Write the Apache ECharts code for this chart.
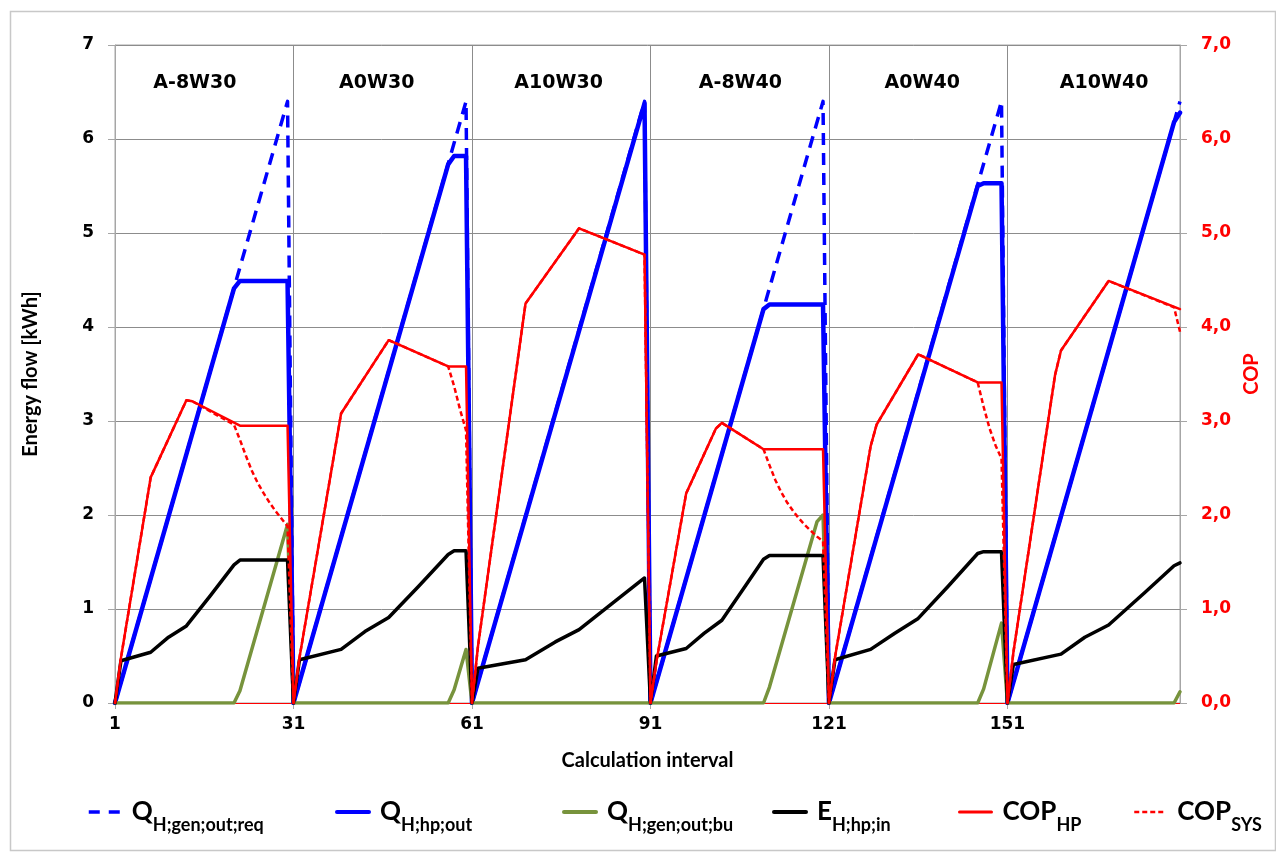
<!DOCTYPE html>
<html><head><meta charset="utf-8">
<script src="https://cdn.jsdelivr.net/npm/echarts@6/dist/echarts.min.js"></script>
<style>html,body{margin:0;padding:0;background:#fff}#c{width:1276px;height:852px}</style>
</head><body><div id="c"></div>
<script>
// ---------- data ----------
const intervals = Array.from({length: 180}, (_, i) => String(i + 1));
const xTickLabels = ['1', '31', '61', '91', '121', '151'];
const segmentNames = ['A-8W30', 'A0W30', 'A10W30', 'A-8W40', 'A0W40', 'A10W40'];
const yTicksLeft = [0, 1, 2, 3, 4, 5, 6, 7];

// [calculation interval, value] — breakpoints
const qReq = [[1,0],[30,6.4],[31,0],[60,6.4],[61,0],[90,6.4],[91,0],[120,6.4],[121,0],[150,6.4],[151,0],[180,6.4]];
const qHp = [[1,0],[21,4.41],[22,4.49],[30,4.49],[31,0],[57,5.73],[58,5.82],[60,5.82],[61,0],[90,6.38],[91,0],
  [110,4.19],[111,4.24],[120,4.24],[121,0],[146,5.5],[147,5.53],[150,5.53],[151,0],[179,6.18],[180,6.28]];
const qBu = [[1,0],[21,0],[22,0.13],[30,1.9],[31,0],[57,0],[58,0.14],[60,0.57],[61,0],[110,0],[111,0.17],[119,1.93],[120,2.0],[121,0],
  [146,0],[147,0.15],[150,0.85],[151,0],[179,0],[180,0.12]];
const eIn = [[1,0],[2,0.45],[7,0.54],[10,0.7],[13,0.82],[17,1.14],[21,1.47],[22,1.52],[30,1.52],[31,0],
  [32,0.46],[39,0.57],[43,0.76],[47,0.91],[52,1.24],[57,1.58],[58,1.62],[60,1.62],[61,0],
  [62,0.37],[70,0.46],[75,0.65],[79,0.78],[85,1.08],[90,1.33],[91,0],
  [92,0.5],[97,0.58],[100,0.74],[103,0.88],[107,1.25],[110,1.53],[111,1.57],[120,1.57],[121,0],
  [122,0.46],[128,0.57],[132,0.74],[136,0.9],[141,1.24],[146,1.59],[147,1.61],[150,1.61],[151,0],
  [152,0.41],[160,0.52],[164,0.7],[168,0.83],[174,1.17],[179,1.46],[180,1.49]];
const copHp = [[1,0],[2,0.48],[7,2.4],[13,3.22],[14,3.21],[22,2.95],[30,2.95],[31,0],
  [32,0.48],[39,3.08],[47,3.86],[57,3.58],[60,3.58],[61,0],
  [62,0.6],[70,4.25],[79,5.05],[90,4.77],[91,0],
  [92,0.44],[97,2.23],[102,2.92],[103,2.98],[110,2.7],[120,2.7],[121,0],
  [122,0.48],[128,2.73],[129,2.96],[136,3.71],[146,3.41],[150,3.41],[151,0],
  [152,0.54],[159,3.49],[160,3.75],[168,4.49],[180,4.19]];
const copSys = [[1,0],[2,0.48],[7,2.4],[13,3.22],[14,3.21],[21,2.96],[22,2.8],[23,2.63],[24,2.47],[25,2.34],[26,2.23],[27,2.13],[28,2.04],[29,1.96],[30,1.88],[31,0],
  [32,0.48],[39,3.08],[47,3.86],[57,3.58],[58,3.37],[59,3.12],[60,2.9],[61,0],
  [62,0.6],[70,4.25],[79,5.05],[90,4.77],[91,0],
  [92,0.44],[97,2.23],[102,2.92],[103,2.98],[110,2.7],[111,2.53],[112,2.37],[113,2.24],[114,2.13],[115,2.04],[116,1.96],[117,1.89],[118,1.83],[119,1.77],[120,1.72],[121,0],
  [122,0.48],[128,2.73],[129,2.96],[136,3.71],[146,3.41],[147,3.15],[148,2.92],[149,2.74],[150,2.6],[151,0],
  [152,0.54],[159,3.49],[160,3.75],[168,4.49],[179,4.21],[180,3.95]];

// legend texts: [series name, main text, subscript]
const legendItems = [
  ['Q_H;gen;out;req', 'Q', 'H;gen;out;req'],
  ['Q_H;hp;out', 'Q', 'H;hp;out'],
  ['Q_H;gen;out;bu', 'Q', 'H;gen;out;bu'],
  ['E_H;hp;in', 'E', 'H;hp;in'],
  ['COP_HP', 'COP', 'HP'],
  ['COP_SYS', 'COP', 'SYS']
];

// ---------- styling ----------
const FT = 'DejaVu Sans';
const FL = 'Lato';
const GRID_C = '#8c8c8c';
const AX_C = '#a6a6a6';
const BLUE = '#0000ff', RED = '#ff0000', GREEN = '#77933c', BLACK = '#000000';

const toData = arr => arr.map(p => [String(p[0]), p[1]]);
const atTick = (idx, val) => xTickLabels.indexOf(String(val)) >= 0;

function mkLine(name, arr, color, width, type, yIdx) {
  return {
    name, type: 'line', data: toData(arr), xAxisIndex: 0, yAxisIndex: yIdx,
    symbol: 'none', showSymbol: false, animation: false,
    lineStyle: {color, width, type, join: 'round', cap: type === 'solid' ? 'round' : 'butt'},
    itemStyle: {color}
  };
}

const series = [
  mkLine('Q_H;gen;out;req', qReq, BLUE, 3.5, [12, 8], 0),
  mkLine('Q_H;hp;out', qHp, BLUE, 4.5, 'solid', 0),
  mkLine('Q_H;gen;out;bu', qBu, GREEN, 3.5, 'solid', 0),
  mkLine('E_H;hp;in', eIn, BLACK, 3.5, 'solid', 0),
  mkLine('COP_HP', copHp, RED, 2.5, 'solid', 1),
  mkLine('COP_SYS', copSys, RED, 2.5, [5, 3], 1)
];

const legendLeft = [82, 330, 557, 767, 953, 1128];
const legendLine = [
  {type: [11, 9], width: 3.5}, {type: 'solid', width: 4}, {type: 'solid', width: 4},
  {type: 'solid', width: 4}, {type: 'solid', width: 3}, {type: [5, 3], width: 2.5}
];
const legends = legendItems.map((it, k) => ({
  data: [it[0]], left: legendLeft[k], top: 794, orient: 'horizontal',
  itemWidth: 32, itemHeight: 14, itemGap: 0,
  itemStyle: {opacity: 0},
  lineStyle: legendLine[k],
  formatter: () => '{b|' + it[1] + '}{s|' + it[2] + '}',
  textStyle: {
    rich: {
      b: {fontFamily: FL, fontWeight: 'bold', fontSize: 26, lineHeight: 44, color: '#000', verticalAlign: 'middle', padding: [0, 0, 0, 6]},
      s: {fontFamily: FL, fontWeight: 'bold', fontSize: 18, lineHeight: 32, color: '#000', verticalAlign: 'bottom'}
    }
  }
}));

const option = {
  backgroundColor: '#ffffff',
  animation: false,
  grid: [
    {left: 115, right: 96, top: 45, bottom: 149, show: true, borderColor: AX_C, borderWidth: 1, containLabel: false},
    {left: 104, right: 81, top: 45, height: 80, show: false}
  ],
  xAxis: [
    {
      type: 'category', gridIndex: 0, data: intervals, boundaryGap: false,
      name: 'Calculation interval', nameLocation: 'middle', nameGap: 48,
      nameTextStyle: {fontFamily: FL, fontWeight: 'bold', fontSize: 20, color: '#000'},
      axisLine: {show: true, lineStyle: {color: RED, width: 1}},
      axisTick: {show: true, interval: atTick, length: 6, lineStyle: {color: AX_C}},
      axisLabel: {interval: atTick, margin: 13, fontFamily: FT, fontWeight: 'bold', fontSize: 17, color: '#000', hideOverlap: false},
      splitLine: {show: true, interval: atTick, lineStyle: {color: GRID_C, width: 1}}
    },
    {
      type: 'category', gridIndex: 1, data: segmentNames, boundaryGap: true, position: 'top',
      axisLine: {show: false}, axisTick: {show: false}, splitLine: {show: false},
      axisLabel: {inside: true, margin: 29, interval: 0, fontFamily: FT, fontWeight: 'bold', fontSize: 19, color: '#000'}
    }
  ],
  yAxis: [
    {
      type: 'value', gridIndex: 0, min: 0, max: 7, interval: 1, position: 'left',
      name: 'Energy flow [kWh]', nameLocation: 'middle', nameGap: 74, nameRotate: 90,
      nameTextStyle: {fontFamily: FL, fontWeight: 'bold', fontSize: 20, color: '#000'},
      axisLine: {show: true, lineStyle: {color: AX_C}},
      axisTick: {show: true, length: 7, lineStyle: {color: AX_C}},
      axisLabel: {margin: 21, fontFamily: FT, fontWeight: 'bold', fontSize: 17, color: '#000',
        formatter: v => String(yTicksLeft[Math.round(v)])},
      splitLine: {show: true, lineStyle: {color: GRID_C, width: 1}}
    },
    {
      type: 'value', gridIndex: 0, min: 0, max: 7, interval: 1, position: 'right',
      name: 'COP', nameLocation: 'middle', nameGap: 58, nameRotate: 90,
      nameTextStyle: {fontFamily: FL, fontWeight: 'bold', fontSize: 20, color: RED},
      axisLine: {show: true, lineStyle: {color: AX_C}},
      axisTick: {show: true, length: 7, lineStyle: {color: AX_C}},
      axisLabel: {margin: 21, fontFamily: FT, fontWeight: 'bold', fontSize: 17, color: RED,
        formatter: v => v.toFixed(1).replace('.', ',')},
      splitLine: {show: false}
    },
    {type: 'value', gridIndex: 1, show: false, min: 0, max: 1}
  ],
  legend: legends,
  series,
  graphic: [{
    type: 'rect', left: 8, top: 9, silent: true, z: -10,
    shape: {width: 1265, height: 839},
    style: {fill: 'none', stroke: '#c8c8c8', lineWidth: 1.5}
  }]
};

const chart = echarts.init(document.getElementById('c'), null, {renderer: 'canvas'});
chart.setOption(option);
</script>
</body></html>
